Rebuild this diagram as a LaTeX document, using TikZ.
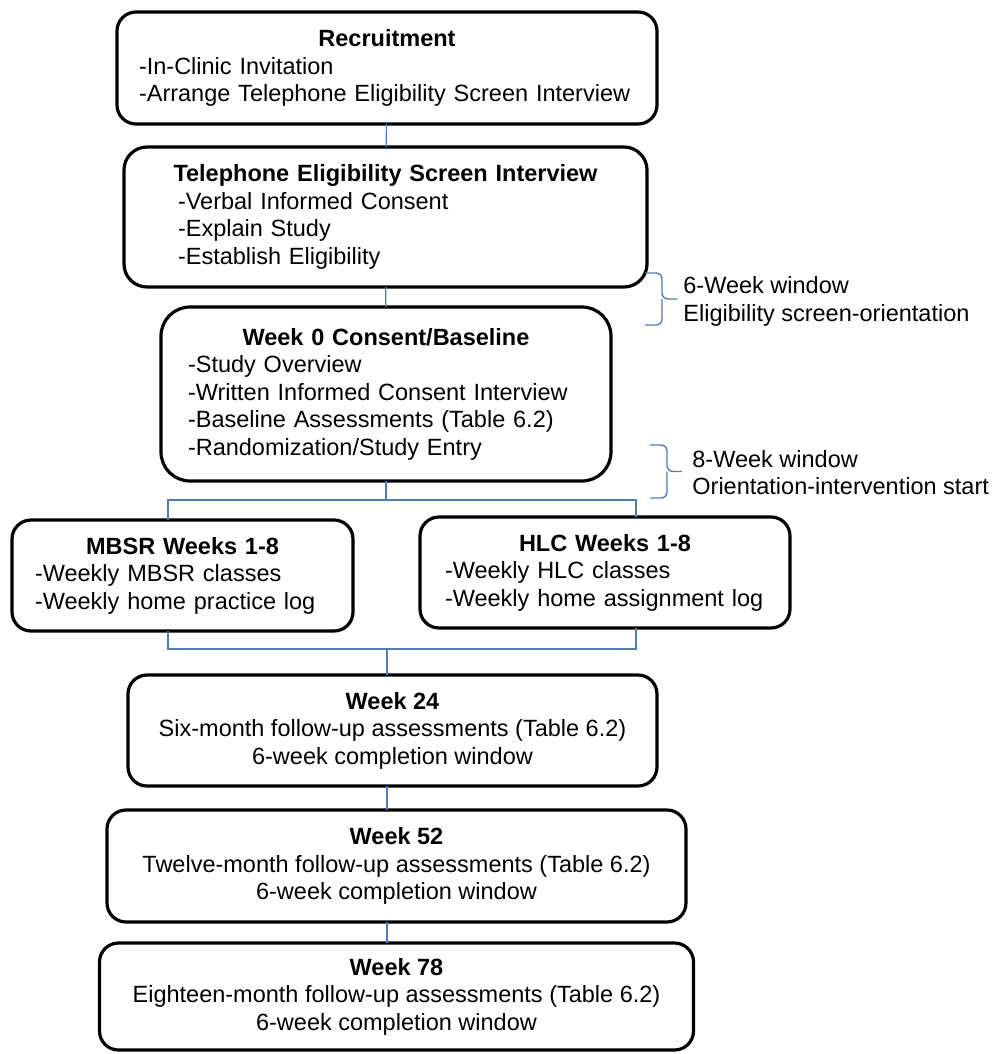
\documentclass[tikz,border=0pt]{standalone}
\usepackage{fontspec}
\setmainfont{Liberation Sans}
\usetikzlibrary{positioning}
\definecolor{linkblue}{RGB}{74,126,187}
\newcommand{\boxfont}{\fontsize{11.75pt}{13.75pt}\selectfont\hyphenpenalty=10000\relax}
\tikzstyle{box}=[draw, line width=1.6pt, rounded corners=9.5pt, inner ysep=0pt, outer sep=0pt, align=left]
\tikzstyle{week}=[box, align=center, minimum height=55.5pt]
\tikzstyle{link}=[draw=linkblue, line width=0.6pt]
\tikzstyle{window}=[draw=linkblue, line width=0.7pt, rounded corners=3pt]
\tikzstyle{note}=[anchor=west, inner sep=0pt, align=left]
\newcommand{\boxhead}[1]{\makebox[\linewidth]{\bfseries #1}\\}

\begin{document}
\begin{tikzpicture}[font=\boxfont]
  \useasboundingbox (0,0) rectangle (496pt,-527pt);
  \node[box, minimum width=270pt, minimum height=56pt, inner xsep=11pt, text width=248pt] (rec) at (193.5pt,-34pt)
    {\boxhead{Recruitment}-In-Clinic Invitation\\-Arrange Telephone Eligibility Screen Interview};
  \node[box, minimum width=261.5pt, minimum height=70pt, inner xsep=27pt, text width=207.5pt, rounded corners=11.5pt] (tel) [below=11.5pt of rec, xshift=-0.75pt]
    {\boxhead{Telephone Eligibility Screen Interview}-Verbal Informed Consent\\-Explain Study\\-Establish Eligibility};
  \node[box, minimum width=225pt, minimum height=87pt, inner xsep=13.5pt, text width=198pt, rounded corners=14.5pt] (wk0) [below=10pt of tel, xshift=0.25pt]
    {\boxhead{Week 0 Consent/Baseline}-Study Overview\\-Written Informed Consent Interview\\-Baseline Assessments (Table 6.2)\\-Randomization/Study Entry};
  \node[box, minimum width=170.5pt, minimum height=55.5pt, inner xsep=11.5pt, text width=147.5pt] (mbsr) [below=19.5pt of wk0, xshift=-101.75pt]
    {\boxhead{MBSR Weeks 1-8}-Weekly MBSR classes\\-Weekly home practice log};
  \node[box, minimum width=185pt, minimum height=55.5pt, inner xsep=12.5pt, text width=160pt] (hlc) [below=18pt of wk0, xshift=109.5pt]
    {\boxhead{HLC Weeks 1-8}-Weekly HLC classes\\-Weekly home assignment log};
  \node[week, minimum width=264.5pt] (wk24) [below=97pt of wk0, xshift=3.25pt]
    {\textbf{Week 24}\\Six-month follow-up assessments (Table 6.2)\\6-week completion window};
  \node[week, minimum width=289.5pt, minimum height=56pt] (wk52) [below=12pt of wk24, xshift=2pt]
    {\textbf{Week 52}\\Twelve-month follow-up assessments (Table 6.2)\\6-week completion window};
  \node[week, minimum width=297pt, minimum height=53.5pt] (wk78) [below=10.5pt of wk52]
    {\textbf{Week 78}\\Eighteen-month follow-up assessments (Table 6.2)\\6-week completion window};

  % split and join
  \coordinate (forkL) at (84pt,-250pt);
  \coordinate (forkR) at (318pt,-250pt);
  \coordinate (fork) at (wk0.south |- forkL);
  \coordinate (joinL) at (84pt,-324.5pt);
  \coordinate (joinR) at (318pt,-324.5pt);
  \coordinate (join) at (193.5pt,-324.5pt);

  \path[link] (rec) -- (tel);
  \path[link] (tel) -- (wk0);
  \path[link] (wk0) -- (fork);
  \path[link] (forkL |- mbsr.north) -- (forkL) -- (forkR) -- (forkR |- hlc.north);
  \path[link] (joinL |- mbsr.south) -- (joinL) -- (joinR) -- (joinR |- hlc.south);
  \path[link] (join) -- (join |- wk24.north);
  \path[link] (join |- wk24.south) -- (join |- wk52.north);
  \path[link] (join |- wk52.south) -- (join |- wk78.north);

  % windows
  \coordinate (b1a) at (322.5pt,-136.5pt);
  \coordinate (b1b) at (322.5pt,-162.5pt);
  \coordinate (b2a) at (325pt,-222.5pt);
  \coordinate (b2b) at (325pt,-249pt);
  \draw[window] (b1a) -| ++(8.5pt,-13pt) -- ++(7.5pt,0) ++(-7.5pt,0) |- (b1b);
  \draw[window] (b2a) -| ++(8.5pt,-13.25pt) -- ++(7.5pt,0) ++(-7.5pt,0) |- (b2b);
  \node[note] (n1) at (341.5pt,-150.75pt) {6-Week window\\Eligibility screen-orientation};
  \node[note] (n2) at (346pt,-236.25pt) {8-Week window\\Orientation-intervention start};
\end{tikzpicture}
\end{document}
